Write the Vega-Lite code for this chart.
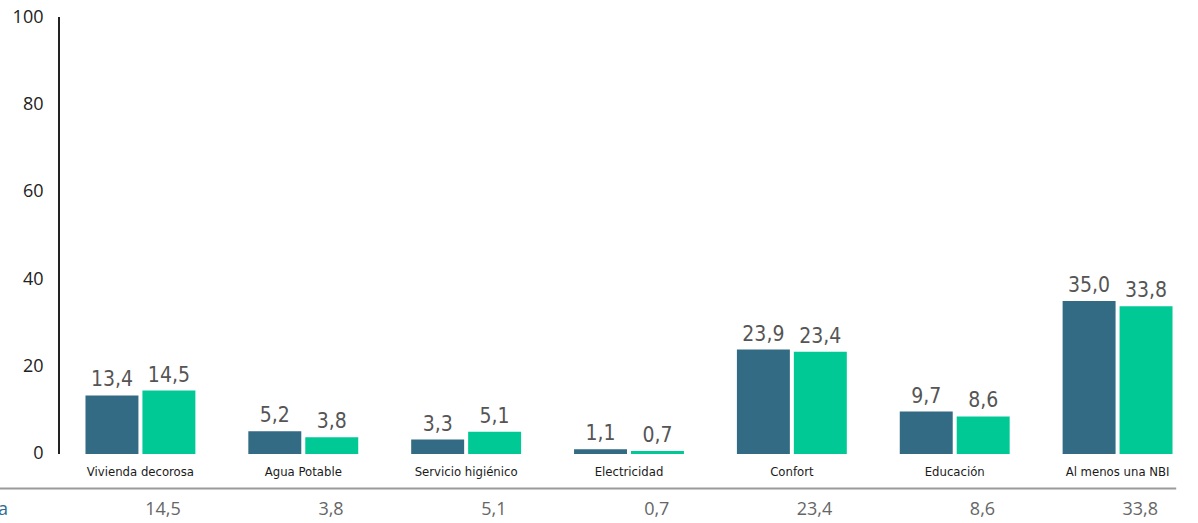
{
  "$schema": "https://vega.github.io/schema/vega-lite/v6.json",
  "autosize": {"type": "none"},
  "padding": {"left": 59, "top": 17, "right": 0, "bottom": 0},
  "width": 1140,
  "height": 506,
  "config": {
    "view": {"stroke": null},
    "locale": {"number": {"decimal": ",", "thousands": ".", "grouping": [3], "currency": ["", " €"]}}
  },
  "datasets": {
    "barras": [
      {"cat": "Vivienda decorosa", "serie": "Serie 1", "valor": 13.4},
      {"cat": "Vivienda decorosa", "serie": "Serie 2", "valor": 14.5},
      {"cat": "Agua Potable", "serie": "Serie 1", "valor": 5.2},
      {"cat": "Agua Potable", "serie": "Serie 2", "valor": 3.8},
      {"cat": "Servicio higiénico", "serie": "Serie 1", "valor": 3.3},
      {"cat": "Servicio higiénico", "serie": "Serie 2", "valor": 5.1},
      {"cat": "Electricidad", "serie": "Serie 1", "valor": 1.1},
      {"cat": "Electricidad", "serie": "Serie 2", "valor": 0.7},
      {"cat": "Confort", "serie": "Serie 1", "valor": 23.9},
      {"cat": "Confort", "serie": "Serie 2", "valor": 23.4},
      {"cat": "Educación", "serie": "Serie 1", "valor": 9.7},
      {"cat": "Educación", "serie": "Serie 2", "valor": 8.6},
      {"cat": "Al menos una NBI", "serie": "Serie 1", "valor": 35.0},
      {"cat": "Al menos una NBI", "serie": "Serie 2", "valor": 33.8}
    ],
    "tabla": [
      {"cat": "Vivienda decorosa", "valor": 14.5},
      {"cat": "Agua Potable", "valor": 3.8},
      {"cat": "Servicio higiénico", "valor": 5.1},
      {"cat": "Electricidad", "valor": 0.7},
      {"cat": "Confort", "valor": 23.4},
      {"cat": "Educación", "valor": 8.6},
      {"cat": "Al menos una NBI", "valor": 33.8}
    ]
  },
  "encoding": {
    "x": {
      "field": "cat", "type": "nominal",
      "scale": {"domain": ["Vivienda decorosa", "Agua Potable", "Servicio higiénico", "Electricidad", "Confort", "Educación", "Al menos una NBI"], "paddingInner": 0, "paddingOuter": 0},
      "axis": null
    }
  },
  "layer": [
    {
      "data": {"name": "barras"},
      "mark": {"type": "bar"},
      "encoding": {
        "xOffset": {"field": "serie", "type": "nominal", "scale": {"paddingInner": 0.07, "paddingOuter": 0.465}},
        "y": {
          "field": "valor", "type": "quantitative",
          "scale": {"domain": [-15.8, 100], "nice": false, "zero": false},
          "axis": {"values": [0, 20, 40, 60, 80, 100], "grid": false, "domain": false, "ticks": false, "labelPadding": 16, "labelFontSize": 18, "labelFont": "Open Sans", "labelColor": "#222222", "title": null}
        },
        "color": {"field": "serie", "type": "nominal", "scale": {"domain": ["Serie 1", "Serie 2"], "range": ["#336a84", "#00c995"]}, "legend": null}
      }
    },
    {
      "data": {"name": "barras"},
      "mark": {"type": "text", "baseline": "bottom", "dy": -5, "font": "Liberation Sans Narrow, DejaVu Sans Condensed, sans-serif", "fontSize": 21, "color": "#555555"},
      "encoding": {
        "xOffset": {"field": "serie", "type": "nominal"},
        "y": {"field": "valor", "type": "quantitative"},
        "text": {"field": "valor", "type": "quantitative", "format": ".1f"}
      }
    },
    {
      "data": {"name": "tabla"},
      "mark": {"type": "text", "baseline": "middle", "font": "Liberation Sans Narrow, DejaVu Sans Condensed, sans-serif", "fontSize": 13, "color": "#1a1a1a"},
      "encoding": {
        "y": {"datum": -4.1},
        "text": {"field": "cat", "type": "nominal"}
      }
    },
    {
      "data": {"name": "tabla"},
      "mark": {"type": "text", "baseline": "middle", "align": "right", "font": "Open Sans", "fontSize": 18, "color": "#666666"},
      "encoding": {
        "x": {"field": "cat", "type": "nominal", "bandPosition": 0.748},
        "y": {"datum": -12.8},
        "text": {"field": "valor", "type": "quantitative", "format": ".1f"}
      }
    },
    {
      "data": {"values": [{}]},
      "mark": {"type": "rule", "color": "#222222", "strokeWidth": 2},
      "encoding": {"y": {"datum": 0}}
    },
    {
      "data": {"values": [{}]},
      "mark": {"type": "rule", "color": "#222222", "strokeWidth": 2},
      "encoding": {
        "x": {"datum": "Vivienda decorosa", "bandPosition": 0},
        "y": {"datum": 0},
        "y2": {"datum": 100}
      }
    },
    {
      "data": {"values": [{}]},
      "mark": {"type": "rule", "color": "#9a9a9a", "strokeWidth": 2},
      "encoding": {
        "x": {"datum": "Vivienda decorosa", "bandPosition": -0.37},
        "x2": {"datum": "Al menos una NBI", "bandPosition": 0.86},
        "y": {"datum": -7.9}
      }
    },
    {
      "data": {"values": [{}]},
      "mark": {"type": "text", "baseline": "middle", "align": "right", "font": "Open Sans", "fontSize": 18, "color": "#2e6b8f"},
      "encoding": {
        "x": {"datum": "Vivienda decorosa", "bandPosition": -0.313},
        "y": {"datum": -12.8},
        "text": {"value": "Tasa"}
      }
    }
  ]
}
